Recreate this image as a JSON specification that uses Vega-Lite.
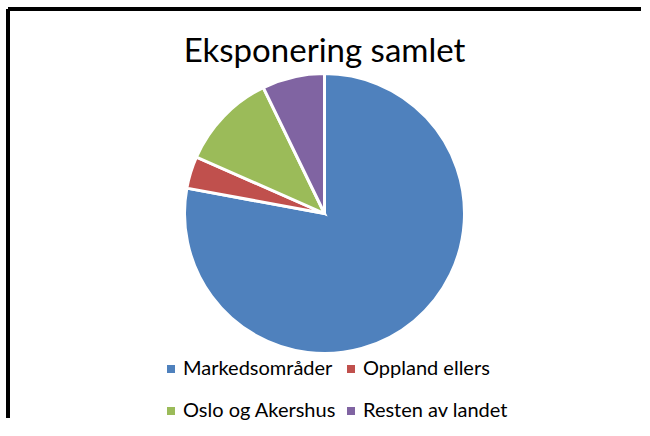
{
  "$schema": "https://vega.github.io/schema/vega-lite/v6.json",
  "width": 633,
  "height": 409,
  "autosize": "none",
  "padding": {"left": 8, "top": 9, "right": 9, "bottom": 18},
  "background": "white",
  "view": {"stroke": "black", "strokeWidth": 4, "strokeDash": [633, 1042, 409, 0]},
  "title": {
    "text": "Eksponering samlet",
    "font": "Lato",
    "fontSize": 33,
    "fontWeight": "normal",
    "color": "black",
    "anchor": "middle",
    "baseline": "alphabetic",
    "orient": "top",
    "offset": -86
  },
  "data": {
    "values": [
      {"region": "Markedsområder", "share": 77.9},
      {"region": "Oppland ellers", "share": 3.7},
      {"region": "Oslo og Akershus", "share": 11.2},
      {"region": "Resten av landet", "share": 7.2}
    ]
  },
  "mark": {"type": "arc", "outerRadius": 140, "stroke": "white", "strokeWidth": 3},
  "encoding": {
    "theta": {"field": "share", "type": "quantitative", "stack": true},
    "order": {"field": "region", "type": "nominal"},
    "color": {
      "field": "region",
      "type": "nominal",
      "scale": {
        "domain": ["Markedsområder", "Oppland ellers", "Oslo og Akershus", "Resten av landet"],
        "range": ["#4F81BD", "#C0504D", "#9BBB59", "#8064A2"]
      },
      "legend": {
        "title": null,
        "orient": "none",
        "legendX": 153,
        "legendY": 350,
        "columns": 2,
        "direction": "horizontal",
        "symbolType": "square",
        "symbolSize": 64,
        "symbolStrokeWidth": 0,
        "labelFont": "Lato",
        "labelFontSize": 20,
        "labelColor": "black",
        "labelLimit": 300,
        "rowPadding": 22,
        "columnPadding": 5,
        "labelOffset": 2
      }
    }
  }
}
